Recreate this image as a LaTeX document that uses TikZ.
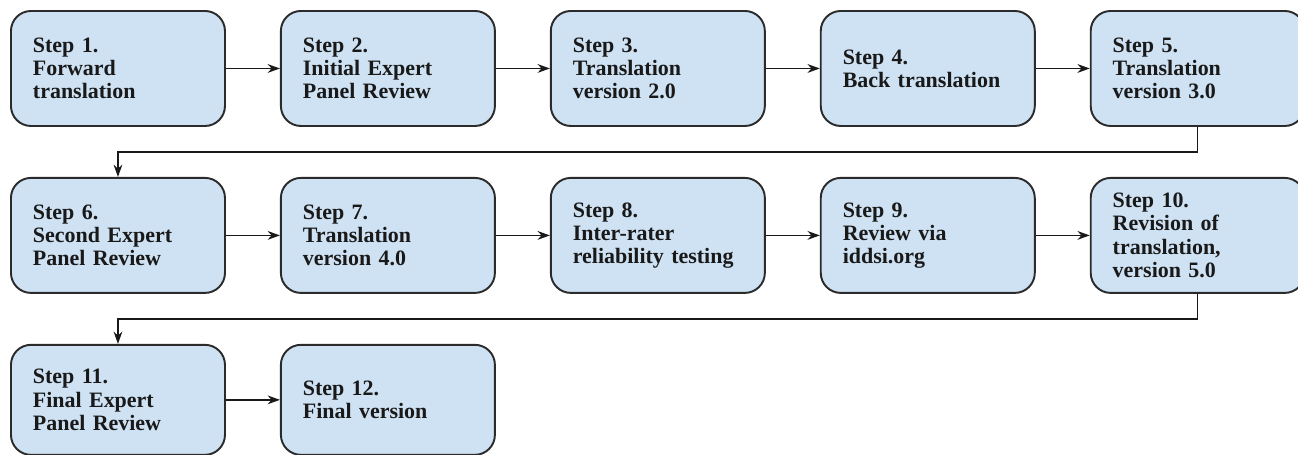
\documentclass[tikz,border=0pt]{standalone}
\usepackage{fontspec}
\setmainfont{Liberation Serif}
\usetikzlibrary{positioning,arrows.meta}
\definecolor{boxblue}{HTML}{CFE2F3}
\definecolor{boxline}{HTML}{2B2B2B}
\begin{document}
\begin{tikzpicture}[
        node distance=1cm and 1.08cm,
        stepbox/.style={draw=boxline, line width=1.1pt, fill=boxblue, rounded corners=0.4cm,
            minimum width=4.28cm, minimum height=2.3cm, text width=3.4cm, inner xsep=0.44cm,
            align=left, font=\bfseries\fontsize{12.5}{13.2}\selectfont, text=black!90},
        flow/.style={->, line width=0.8pt, draw=black!90},
        >={Stealth[length=7pt,width=5pt]}
    ]
            \useasboundingbox (0,0) rectangle (25.96,-9.08);
            % first row
            \node[stepbox, anchor=north west] (s1) at (0.2,-0.2) {Step 1.\\Forward\\translation};
            \node[stepbox, right=of s1] (s2) {Step 2.\\Initial Expert\\Panel Review};
            \node[stepbox, right=of s2] (s3) {Step 3.\\Translation\\version 2.0};
            \node[stepbox, right=of s3] (s4) {Step 4.\\Back translation};
            \node[stepbox, right=of s4] (s5) {Step 5.\\Translation\\version 3.0};
            % second row
            \node[stepbox, below=of s1] (s6) {Step 6.\\Second Expert\\Panel Review};
            \node[stepbox, right=of s6] (s7) {Step 7.\\Translation\\version 4.0};
            \node[stepbox, right=of s7] (s8) {Step 8.\\Inter-rater\\reliability testing};
            \node[stepbox, right=of s8] (s9) {Step 9.\\Review via\\iddsi.org};
            \node[stepbox, right=of s9] (s10) {Step 10.\\Revision of\\translation,\\version 5.0};
            % third row
            \node[stepbox, below=of s6, minimum height=2.2cm] (s11) {Step 11.\\Final Expert\\Panel Review};
            \node[stepbox, right=of s11, minimum height=2.2cm] (s12) {Step 12.\\Final version};
            % arrows
            \foreach \a/\b in {s1/s2, s2/s3, s3/s4, s4/s5, s6/s7, s7/s8, s8/s9, s9/s10, s11/s12}
                \draw[flow] (\a) -- (\b);
            \draw[flow] (s5.south) -- ++(0,-0.5) -| (s6.north);
            \draw[flow] (s10.south) -- ++(0,-0.5) -| (s11.north);
        \end{tikzpicture}
\end{document}
